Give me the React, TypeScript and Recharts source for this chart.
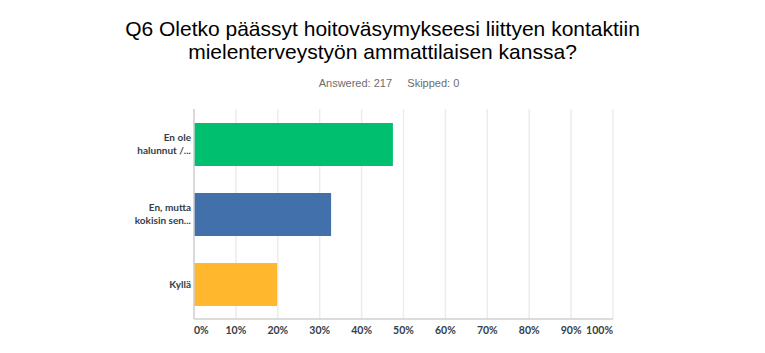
import { Bar, BarChart, CartesianGrid, Cell, XAxis, YAxis } from "recharts";

// Q6 — vastaukset (n = 217)
const categories = ["En ole halunnut /...", "En, mutta kokisin sen...", "Kyllä"];
const categoryLines = [["En ole", "halunnut /..."], ["En, mutta", "kokisin sen..."], ["Kyllä"]];
const percentages = [47.47, 32.72, 19.82];
const barColors = ["#00BF6F", "#4170AA", "#FFB82E"];
const xTicks = [0, 10, 20, 30, 40, 50, 60, 70, 80, 90, 100];

const rows = categories.map((label, i) => ({ label, value: percentages[i], lines: categoryLines[i] }));

const fontStack = "Lato, 'Open Sans', sans-serif";

function XTick({ x, y, payload, index }: any) {
  const anchor = index === 0 ? "start" : index === xTicks.length - 1 ? "end" : "middle";
  return (
    <text x={x} y={y} dy={7} textAnchor={anchor} fontSize={10.5} fontWeight={700} fill="#333e48" fontFamily={fontStack}>
      {payload.value}%
    </text>
  );
}

function YTick({ x, y, index }: any) {
  const lines = categoryLines[index] ?? [];
  const lineH = 12.7;
  const start = -((lines.length - 1) * lineH) / 2;
  return (
    <text x={x} y={y} textAnchor="end" fontSize={10} fontWeight={700} fill="#333e48" fontFamily={fontStack}>
      {lines.map((l: string, i: number) => (
        <tspan key={i} x={x} y={y + start + i * lineH} dy="0.35em">
          {l}
        </tspan>
      ))}
    </text>
  );
}

export default function App() {
  return (
    <div style={{ position: "absolute", left: 0, top: 0, width: 765, height: 353, background: "#fff" }}>
      <div
        style={{
          position: "absolute",
          left: 0,
          top: 17,
          width: 765,
          textAlign: "center",
          fontFamily: "'Liberation Sans', Arial, sans-serif",
          fontSize: 21,
          lineHeight: "23px",
          color: "#000",
        }}
      >
        Q6 Oletko päässyt hoitoväsymykseesi liittyen kontaktiin
        <br />
        mielenterveystyön ammattilaisen kanssa?
      </div>
      <div
        style={{
          position: "absolute",
          left: 0,
          top: 76,
          width: 778,
          textAlign: "center",
          fontFamily: "'Liberation Sans', Arial, sans-serif",
          fontSize: 11,
          lineHeight: "14px",
          color: "#6d6d6d",
          whiteSpace: "pre",
        }}
      >
        {"Answered: 217     Skipped: 0"}
      </div>
      <div style={{ position: "absolute", left: 0, top: 0 }}>
        <BarChart
          width={765}
          height={353}
          data={rows}
          layout="vertical"
          margin={{ top: 109, right: 152, bottom: 4, left: 0 }}
        >
          <CartesianGrid horizontal={false} stroke="#ececec" strokeWidth={1.5} />
          <XAxis
            type="number"
            domain={[0, 100]}
            ticks={xTicks}
            interval={0}
            height={30}
            axisLine={{ stroke: "#d0d0d0", strokeWidth: 1.5 }}
            tickLine={false}
            tick={<XTick />}
          />
          <YAxis
            type="category"
            dataKey="label"
            width={194}
            axisLine={{ stroke: "#d0d0d0", strokeWidth: 1.5 }}
            tickLine={false}
            tickSize={3}
            tickMargin={0}
            tick={<YTick />}
          />
          <Bar dataKey="value" barSize={43} isAnimationActive={false}>
            {rows.map((r, i) => (
              <Cell key={r.label} fill={barColors[i]} />
            ))}
          </Bar>
        </BarChart>
      </div>
    </div>
  );
}
